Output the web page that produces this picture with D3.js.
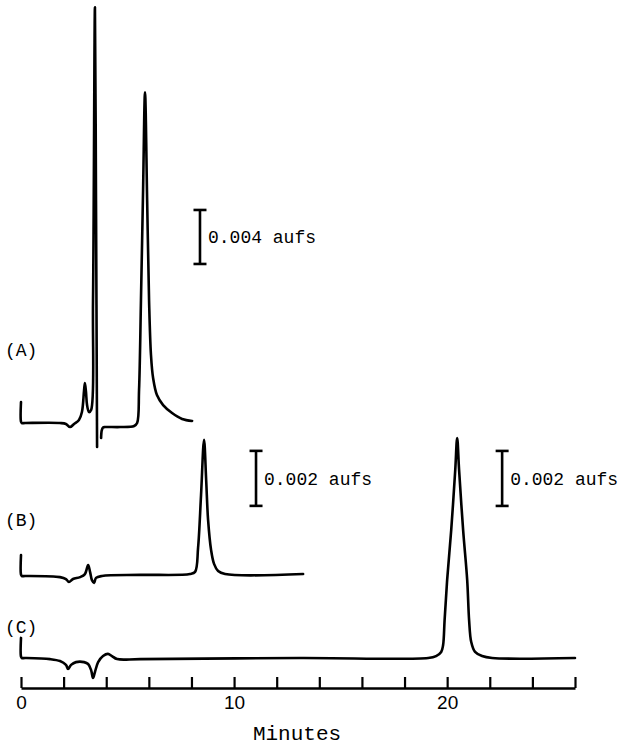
<!DOCTYPE html>
<html>
<head>
<meta charset="utf-8">
<script src="https://cdn.jsdelivr.net/npm/d3@7"></script>
<style>
  body { margin: 0; background: #fff; }
  svg { display: block; }
  .trace { fill: none; stroke: #000; stroke-width: 2.6; stroke-linejoin: round; stroke-linecap: round; }
  .bar line { stroke: #000; stroke-width: 2.6; }
  text { font-family: "Liberation Mono", "DejaVu Sans Mono", monospace; fill: #000; }
</style>
</head>
<body>
<script>
// chromatogram traces: [minutes, mAU above baseline], null = pen lift
var traceA = [
  [0, 1.56], [0, 0.1], [0.04, 0], [0.2, 0], [1.83, 0], [2.11, -0.07], [2.30, -0.30], [2.49, -0.07],
  [2.72, 0.22], [2.86, 0.81], [2.96, 2.44], [3.00, 2.96], [3.05, 2.30],
  [3.10, 1.33], [3.19, 0.81], [3.29, 0.96], [3.38, 9.1], [3.47, 30.8],
  [3.52, 16.5], [3.57, -1.78],
  null,
  [3.76, -1.11], [3.79, -0.55], [3.85, -0.33], [3.94, -0.30], [4.65, -0.30], [5.31, -0.22],
  [5.45, 0], [5.54, 2.44], [5.63, 9.1], [5.73, 17.3], [5.82, 24.5],
  [5.92, 16.5], [6.01, 9.1], [6.10, 5.04], [6.20, 3.33], [6.38, 2.07],
  [6.67, 1.33], [7.09, 0.74], [7.56, 0.30], [8.03, 0.15]
];

var traceB = [
  [0, 0.76], [0, 0.05], [0.04, 0], [0.2, 0], [1.83, -0.04], [2.11, -0.11], [2.25, -0.22], [2.44, -0.11],
  [2.77, -0.04], [3.00, 0.07], [3.15, 0.40], [3.24, 0.15], [3.33, -0.15],
  [3.43, -0.25], [3.52, -0.07], [3.80, 0], [5.59, 0.04], [7.93, 0.07],
  [8.17, 0.15], [8.31, 1.02], [8.45, 2.95], [8.59, 4.95], [8.69, 3.49],
  [8.78, 2.04], [8.92, 0.95], [9.06, 0.44], [9.25, 0.18], [9.58, 0.07],
  [13.24, 0.07]
];

var traceC = [
  [0, 0.73], [0, 0.05], [0.04, 0], [0.2, 0], [1.36, -0.04], [1.83, -0.11], [2.11, -0.25], [2.21, -0.40],
  [2.35, -0.25], [2.58, -0.15], [2.96, -0.15], [3.15, -0.22], [3.29, -0.44],
  [3.38, -0.73], [3.47, -0.51], [3.62, -0.15], [3.85, 0.07], [4.08, 0.15],
  [4.27, 0.07], [4.51, -0.04], [5.59, -0.04], [13.1, 0], [19.11, 0],
  [19.48, 0.07], [19.72, 0.22], [19.81, 0.47], [19.88, 1.38], [20.0, 2.84],
  [20.19, 4.65], [20.38, 6.84], [20.47, 8.0], [20.56, 6.84], [20.75, 4.65],
  [20.94, 2.84], [21.03, 1.38], [21.13, 0.58], [21.31, 0.22], [21.64, 0.07],
  [22.11, 0], [26.0, 0]
];

var traceLabels = ["(A)", "(B)", "(C)"];
var barLabels = ["0.004 aufs", "0.002 aufs", "0.002 aufs"];
var barValues = [4, 2, 2];
var tickValues = d3.range(0, 27, 2);
var tickLabels = [0, 10, 20];

var width = 622, height = 745;

var svg = d3.select("body").append("svg")
  .attr("width", width)
  .attr("height", height);

svg.append("rect").attr("width", width).attr("height", height).attr("fill", "#fff");

var x = d3.scaleLinear().domain([0, 26]).range([21, 575]);

// one y scale per trace (baseline px, px per mAU)
var panels = [
  {data: traceA, y: d3.scaleLinear().domain([0, 4]).range([423, 369]), labelY: 350, barT: 8.4, barV: 11.78},
  {data: traceB, y: d3.scaleLinear().domain([0, 2]).range([576, 521]), labelY: 520, barT: 11.03, barV: 2.55},
  {data: traceC, y: d3.scaleLinear().domain([0, 2]).range([658, 603]), labelY: 627, barT: 22.58, barV: 5.53}
];

panels.forEach(function(p, i) {
  var line = d3.line()
    .defined(function(d) { return d != null; })
    .x(function(d) { return x(d[0]); })
    .y(function(d) { return p.y(d[1]); })
    .curve(d3.curveCatmullRom.alpha(0.5));

  svg.append("path")
    .datum(p.data)
    .attr("class", "trace")
    .attr("d", line);

  svg.append("text")
    .attr("x", 5)
    .attr("y", p.labelY)
    .attr("dy", "0.35em")
    .style("font-size", "18px")
    .text(traceLabels[i]);

  // scale bar
  var bx = x(p.barT);
  var y0 = p.y(p.barV), y1 = p.y(p.barV + barValues[i]);
  var g = svg.append("g").attr("class", "bar");
  g.append("line").attr("x1", bx).attr("x2", bx).attr("y1", y0).attr("y2", y1);
  g.append("line").attr("x1", bx - 6.5).attr("x2", bx + 6.5).attr("y1", y0).attr("y2", y0);
  g.append("line").attr("x1", bx - 6.5).attr("x2", bx + 6.5).attr("y1", y1).attr("y2", y1);
  g.append("text")
    .attr("x", bx + 8)
    .attr("y", (y0 + y1) / 2)
    .attr("dy", "0.35em")
    .style("font-size", "18px")
    .text(barLabels[i]);
});

// time axis
var axis = svg.append("g")
  .attr("transform", "translate(0,688)")
  .call(d3.axisBottom(x)
    .tickValues(tickValues)
    .tickSizeInner(-11)
    .tickSizeOuter(0)
    .tickPadding(8)
    .tickFormat(function(d) { return tickLabels.indexOf(d) >= 0 ? d : ""; }));

axis.select(".domain").attr("stroke", "#000").attr("stroke-width", 2.6);
axis.selectAll(".tick line").attr("stroke", "#000").attr("stroke-width", 2.2);
axis.selectAll(".tick text")
  .attr("fill", "#000")
  .style("font-family", "'Liberation Sans', Arial, sans-serif")
  .style("font-size", "19px");

svg.append("text")
  .attr("x", 297)
  .attr("y", 733)
  .attr("dy", "0.35em")
  .attr("text-anchor", "middle")
  .style("font-size", "21px")
  .text("Minutes");
</script>
</body>
</html>
